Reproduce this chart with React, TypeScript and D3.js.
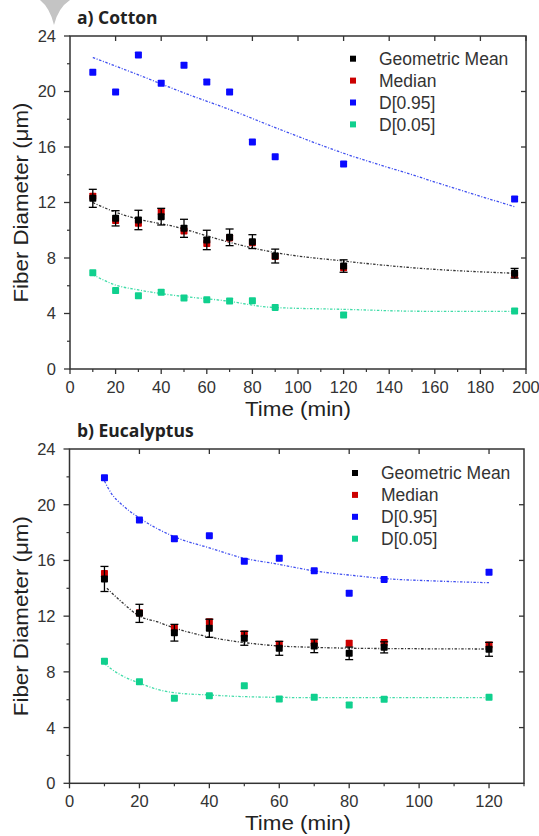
import React from "react";
import * as d3 from "d3";

// ---- a) Cotton ----
const timesA = [10, 20, 30, 40, 50, 60, 70, 80, 90, 120, 195];
const gmA = [12.3, 10.86, 10.74, 10.98, 10.14, 9.3, 9.49, 9.18, 8.14, 7.42, 6.9];
const medA = [12.45, 10.7, 10.5, 11.35, 9.95, 9.05, 9.45, 9.1, 8.1, 7.3, 6.8];
const errA = [0.65, 0.55, 0.7, 0.6, 0.65, 0.7, 0.6, 0.5, 0.5, 0.45, 0.35];
const d95A = [21.38, 19.96, 22.63, 20.59, 21.89, 20.68, 19.96, 16.36, 15.3, 14.77, 12.25];
const d05A = [6.94, 5.65, 5.28, 5.53, 5.12, 5.0, 4.9, 4.92, 4.44, 3.89, 4.18];
const fitGmA: [number, number][] = [[10, 12.0], [20, 11.3], [30, 10.8], [46, 10.26], [60, 9.6], [68, 9.22], [88, 8.45], [120, 7.78], [154, 7.25], [195, 6.9]];
const fitD95A: [number, number][] = [[10, 22.45], [30, 21.2], [50, 19.9], [70, 18.7], [90, 17.4], [120, 15.55], [150, 14.0], [175, 12.7], [195, 11.7]];
const fitD05A: [number, number][] = [[10, 6.8], [20, 6.05], [30, 5.7], [46, 5.3], [68, 4.92], [88, 4.45], [120, 4.3], [155, 4.16], [195, 4.15]];

// ---- b) Eucalyptus ----
const timesB = [10, 20, 30, 40, 50, 60, 70, 80, 90, 120];
const gmB = [14.67, 12.2, 10.81, 11.13, 10.41, 9.69, 9.86, 9.33, 9.76, 9.62];
const medB = [15.07, 12.25, 11.13, 11.6, 10.72, 9.98, 10.05, 10.05, 10.1, 9.93];
const errB = [0.9, 0.65, 0.6, 0.65, 0.5, 0.5, 0.48, 0.45, 0.4, 0.5];
const d95B = [21.94, 18.9, 17.56, 17.78, 15.94, 16.15, 15.26, 13.64, 14.64, 15.15];
const d05B = [8.76, 7.29, 6.1, 6.29, 7.0, 6.05, 6.17, 5.62, 6.03, 6.17];
const fitGmB: [number, number][] = [[10.7, 14.0], [15, 13.0], [20, 12.0], [25, 11.6], [30, 11.15], [40, 10.5], [50, 10.1], [60, 9.86], [70, 9.76], [80, 9.7], [100, 9.66], [120, 9.64]];
const fitD95B: [number, number][] = [[10, 21.7], [12, 20.8], [15, 20.0], [20, 19.05], [30, 17.7], [40, 16.9], [50, 16.15], [58, 15.8], [70, 15.25], [80, 14.95], [90, 14.7], [105, 14.52], [120, 14.4]];
const fitD05B: [number, number][] = [[10, 8.6], [12, 8.2], [16, 7.6], [20, 7.2], [25, 6.75], [30, 6.5], [40, 6.34], [50, 6.22], [70, 6.15], [120, 6.15]];

const legendLabels = ["Geometric Mean", "Median", "D[0.95]", "D[0.05]"];
const yTicks = [0, 4, 8, 12, 16, 20, 24];

const BLACK = "#000";
const RED = "#cc0000";
const BLUE = "#0a0aff";
const GREEN = "#10d08e";
const INK = "#333";
const FONT = "'Liberation Sans', Arial, sans-serif";

const Panel = ({ title, times, gm, med, err, d95, d05, fitGm, fitD95, fitD05, xMax, xTickMax, box, titleY, legend, xLabelY }) => {
  const x = d3.scaleLinear().domain([0, xMax]).range([box.left, box.right]);
  const y = d3.scaleLinear().domain([0, 24]).range([box.bottom, box.top]);
  const xMajor = d3.range(0, xTickMax + 1, 20);
  const xMinor = d3.range(10, xMax + 0.1, 20);
  const yMinor = d3.range(2, 24, 4);
  const line = d3.line<[number, number]>().x(d => x(d[0])).y(d => y(d[1])).curve(d3.curveMonotoneX);
  const sq = 7;
  const dash = "2.5,1.6,1,1.6";
  const marks = (vals, color) => vals.map((v, i) => (
    <rect key={i} x={x(times[i]) - sq / 2} y={y(v) - sq / 2} width={sq} height={sq} fill={color} rx={0.8} />
  ));
  const legendColors = [BLACK, RED, BLUE, GREEN];
  const midY = (box.top + box.bottom) / 2;
  return (
    <g>
      <text x={77} y={titleY} fontFamily="'Open Sans', sans-serif" fontWeight={700} fontSize={17.5} fill="#222">{title}</text>
      {/* fit lines */}
      <path d={line(fitD95)} fill="none" stroke="#4050f0" strokeWidth={1.3} strokeDasharray={dash} />
      <path d={line(fitGm)} fill="none" stroke="#333" strokeWidth={1.3} strokeDasharray={dash} />
      <path d={line(fitD05)} fill="none" stroke="#40dca8" strokeWidth={1.3} strokeDasharray={dash} />
      {marks(d95, BLUE)}
      {marks(d05, GREEN)}
      {marks(med, RED)}
      {marks(gm, BLACK)}
      {gm.map((v, i) => {
        const cx = x(times[i]);
        return (
          <g key={i} stroke={BLACK} strokeWidth={1.3}>
            <line x1={cx} x2={cx} y1={y(v - err[i])} y2={y(v + err[i])} />
            <line x1={cx - 4} x2={cx + 4} y1={y(v - err[i])} y2={y(v - err[i])} />
            <line x1={cx - 4} x2={cx + 4} y1={y(v + err[i])} y2={y(v + err[i])} />
          </g>
        );
      })}
      {/* frame */}
      <rect x={box.left} y={box.top} width={box.right - box.left} height={box.bottom - box.top} fill="none" stroke={INK} strokeWidth={1.5} />
      {xMajor.map(t => (
        <g key={t}>
          <line x1={x(t)} x2={x(t)} y1={box.bottom} y2={box.bottom + 5} stroke={INK} strokeWidth={1.3} />
          {t > 0 && <line x1={x(t)} x2={x(t)} y1={box.top} y2={box.top + 5} stroke={INK} strokeWidth={1.3} />}
          <text x={x(t)} y={box.bottom + 24} textAnchor="middle" fontFamily={FONT} fontSize={16.5} fill={INK}>{t}</text>
        </g>
      ))}
      {xMinor.map(t => (
        <line key={t} x1={x(t)} x2={x(t)} y1={box.bottom} y2={box.bottom + 3} stroke={INK} strokeWidth={1.2} />
      ))}
      {yTicks.map(t => (
        <g key={t}>
          <line x1={box.left - 6} x2={box.left} y1={y(t)} y2={y(t)} stroke={INK} strokeWidth={1.3} />
          {t > 0 && t < 24 && <line x1={box.right - 5} x2={box.right} y1={y(t)} y2={y(t)} stroke={INK} strokeWidth={1.3} />}
          <text x={box.left - 14} y={y(t)} dy="0.36em" textAnchor="end" fontFamily={FONT} fontSize={16.5} fill={INK}>{t}</text>
        </g>
      ))}
      {yMinor.map(t => (
        <line key={t} x1={box.left - 3} x2={box.left} y1={y(t)} y2={y(t)} stroke={INK} strokeWidth={1.2} />
      ))}
      {/* legend */}
      {legendLabels.map((lab, i) => (
        <g key={lab}>
          <rect x={legend.x - 3} y={legend.y + i * 21.9 - 3} width={6} height={6} fill={legendColors[i]} />
          <text x={legend.x + 26} y={legend.y + i * 21.9} dy="0.36em" fontFamily={FONT} fontSize={17.5} fill={INK}>{lab}</text>
        </g>
      ))}
      <text x={298} y={xLabelY} textAnchor="middle" fontFamily={FONT} fontSize={20} fill="#222" textLength={106} lengthAdjust="spacingAndGlyphs">Time (min)</text>
      <text transform={`translate(28,${midY}) rotate(-90)`} textAnchor="middle" fontFamily={FONT} fontSize={21} fill="#222" textLength={200} lengthAdjust="spacingAndGlyphs">Fiber Diameter (μm)</text>
    </g>
  );
};

export default function App() {
  return (
    <svg width={539} height={836} style={{ position: "absolute", left: 0, top: 0, background: "#fff" }}>
      <rect width={539} height={836} fill="#fff" />
      <path d="M40,0 L70,0 Q58,8 54,25 Q50,8 40,0 Z" fill="#c4c4c4" />
      <Panel title="a) Cotton" times={timesA} gm={gmA} med={medA} err={errA} d95={d95A} d05={d05A}
        fitGm={fitGmA} fitD95={fitD95A} fitD05={fitD05A} xMax={200} xTickMax={200}
        box={{ left: 70, right: 526, top: 36, bottom: 369 }} titleY={24}
        legend={{ x: 353, y: 58.7 }} xLabelY={416} />
      <Panel title="b) Eucalyptus" times={timesB} gm={gmB} med={medB} err={errB} d95={d95B} d05={d05B}
        fitGm={fitGmB} fitD95={fitD95B} fitD05={fitD05B} xMax={130} xTickMax={120}
        box={{ left: 69.5, right: 524, top: 449, bottom: 783.3 }} titleY={437}
        legend={{ x: 355, y: 473 }} xLabelY={830} />
    </svg>
  );
}
